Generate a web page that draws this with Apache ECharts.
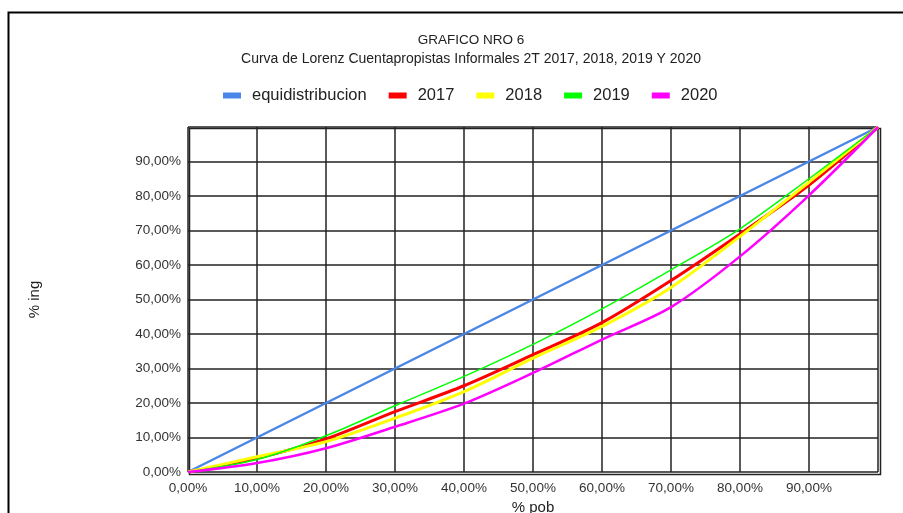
<!DOCTYPE html>
<html>
<head>
<meta charset="utf-8">
<script src="https://cdn.jsdelivr.net/npm/echarts@6/dist/echarts.min.js"></script>
<style>
  html, body { margin: 0; padding: 0; background: #fff; }
  #chart { width: 903px; height: 513px; }
</style>
</head>
<body>
<div id="chart"></div>
<script>
// % pob (deciles)
var pob = [0, 10, 20, 30, 40, 50, 60, 70, 80, 90, 100];
// % ing acumulado por serie
var equi  = [0, 10, 20, 30, 40, 50, 60, 70, 80, 90, 100];
var y2017 = [0, 4.0, 9.6, 17.5, 25.0, 34.0, 43.3, 55.5, 69.0, 83.2, 100];
var y2018 = [0, 4.4, 8.8, 15.6, 23.3, 33.0, 42.2, 53.5, 68.3, 84.0, 100];
var y2019 = [0, 3.6, 10.5, 19.2, 27.7, 37.0, 47.3, 58.6, 70.5, 85.0, 100];
var y2020 = [0, 2.6, 6.9, 13.1, 19.8, 28.7, 38.4, 47.8, 62.5, 80.2, 100];

var nombres = ['equidistribucion', '2017', '2018', '2019', '2020'];
var colores = ['#4a86e8', '#ff0000', '#ffff00', '#00ff00', '#ff00ff'];
var anchos  = [2.5, 3, 3, 1.5, 2.5];

function pares(ys){
    return pob.map(function(x, i){ return [x, ys[i]]; });
}
function pct(v){
    if (v >= 100) return '';
    return v.toFixed(2).replace('.', ',') + '%';
}

var myChart = echarts.init(document.getElementById('chart'));
var datos = [equi, y2017, y2018, y2019, y2020];

var option = {
    animation: false,
    backgroundColor: '#fff',
    textStyle: {fontFamily: 'Liberation Sans, Arial, sans-serif'},
    title: {
        text: 'GRAFICO NRO 6',
        subtext: 'Curva de Lorenz Cuentapropistas Informales 2T 2017, 2018, 2019 Y 2020',
        left: 466, top: 28, itemGap: 5, textAlign: 'center',
        textStyle: {fontSize: 13.5, fontWeight: 'normal', color: '#222'},
        subtextStyle: {fontSize: 14, color: '#222'}
    },
    legend: {
        top: 82, left: 218,
        icon: 'rect', itemWidth: 18, itemHeight: 6, itemGap: 22,
        textStyle: {fontSize: 16.5, color: '#222', padding: [0, 0, 0, 6]},
        data: nombres
    },
    grid: {left: 188, right: 25, top: 127, bottom: 41, outerBoundsMode: 'none', containLabel: false},
    xAxis: {
        type: 'value', min: 0, max: 100, interval: 10,
        name: '% pob', nameLocation: 'middle', nameGap: 28,
        nameTextStyle: {fontSize: 15, color: '#222'},
        axisLine: {show: false}, axisTick: {show: false},
        axisLabel: {formatter: pct, fontSize: 13.5, color: '#333', margin: 9},
        splitLine: {show: true, lineStyle: {color: '#222', width: 1.5}}
    },
    yAxis: {
        type: 'value', min: 0, max: 100, interval: 10,
        name: '% ing', nameLocation: 'middle', nameGap: 146,
        nameTextStyle: {fontSize: 15, color: '#222'},
        axisLine: {show: false}, axisTick: {show: false},
        axisLabel: {formatter: pct, fontSize: 13.5, color: '#333', margin: 7},
        splitLine: {show: true, lineStyle: {color: '#222', width: 1.5}}
    },
    graphic: [{
        type: 'rect', left: 6, top: 10, silent: true, z: 100,
        shape: {width: 1000, height: 600},
        style: {fill: 'none', stroke: '#000', lineWidth: 2}
    }, {
        type: 'rect', left: 187, top: 126, silent: true, z: -1,
        shape: {width: 691, height: 346},
        style: {fill: 'none', stroke: '#222', lineWidth: 1.5}
    }],
    series: datos.map(function(d, i){
        return {
            name: nombres[i], type: 'line',
            data: pares(d),
            smooth: i === 0 ? false : 0.3,
            showSymbol: false, symbol: 'none',
            itemStyle: {color: colores[i]},
            lineStyle: {color: colores[i], width: anchos[i]}
        };
    })
};
myChart.setOption(option);

window.addEventListener('resize', function(){ myChart.resize(); });
</script>
</body>
</html>
